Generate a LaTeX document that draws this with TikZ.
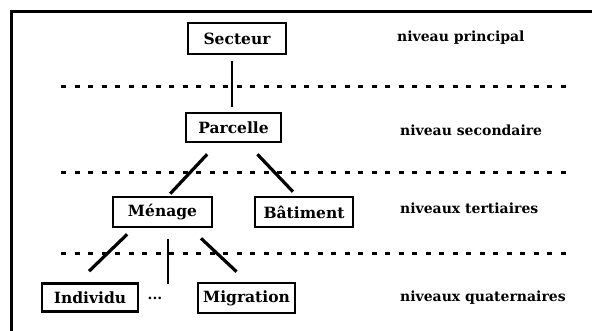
\documentclass[tikz,border=0pt]{standalone}
\usepackage{fontspec}
\setmainfont{DejaVu Serif}
\usetikzlibrary{calc}
\begin{document}
\begin{tikzpicture}[x=1pt,y=-1pt,
  box/.style={draw,line width=2.6pt,inner sep=0pt,font=\fontsize{15.5}{17}\selectfont\bfseries},
  lvl/.style={anchor=west,inner sep=0pt,font=\fontsize{14}{16}\selectfont\bfseries},
  link/.style={line width=3.2pt},
  sep/.style={line width=3pt,dash pattern=on 5pt off 8.5pt}]
\useasboundingbox (0,0) rectangle (592,331);
% frame
\draw[line width=3pt] (592,11.5) -- (11,11.5) -- (11,331);
% separators
\foreach \y/\n in {87/s1,173/s2,254/s3}{
  \coordinate (\n a) at (61,\y);
  \coordinate (\n b) at (572,\y);
  \draw[sep] (\n a) -- (\n b);
}
% boxes
\node[box,minimum width=98pt,minimum height=31pt] (sec) at (237,38.5) {Secteur};
\node[box,minimum width=95pt,minimum height=29pt] (par) at (233.5,127.5) {Parcelle};
\node[box,minimum width=99pt,minimum height=30pt] (men) at (162.5,212) {Ménage};
\node[box,minimum width=98pt,minimum height=30pt] (bat) at (304,212) {Bâtiment};
\node[box,minimum width=96pt,minimum height=28pt] (ind) at (90,297.5) {Individu};
\node[box,minimum width=97pt,minimum height=30pt] (mig) at (246.5,298) {Migration};
\node[inner sep=0pt,font=\fontsize{14}{16}\selectfont\bfseries] (dots) at (155,298) {...};
% level labels
\node[lvl] (l1) at (397,38) {niveau principal};
\node[lvl] (l2) at (400,130) {niveau secondaire};
\node[lvl] (l3) at (400,208) {niveaux tertiaires};
\node[lvl] (l4) at (400,298) {niveaux quaternaires};
% connectors
\draw[line width=2.6pt] (sec.south -| 232,0) ++(0,6) -- ($(par.north -| 232,0)+(0,-5)$);
\draw[link] ($(par.south west)!0.23!(par.south east)+(0,11)$) -- ($(men.north west)!0.576!(men.north east)+(0,-2)$);
\draw[link] ($(par.south west)!0.745!(par.south east)+(0,11)$) -- ($(bat.north west)!0.39!(bat.north east)+(0,-4)$);
\draw[link] ($(men.south west)!0.152!(men.south east)+(0,6)$) -- ($(ind.north west)!0.49!(ind.north east)+(0,-11)$);
\draw[line width=2.6pt] ($(men.south west)!0.555!(men.south east)+(0,11)$) -- ($(men.south west)!0.555!(men.south east)+(0,56)$);
\draw[link] ($(men.south west)!0.879!(men.south east)+(0,10)$) -- ($(mig.north west)!0.4!(mig.north east)+(0,-10)$);
\end{tikzpicture}
\end{document}
